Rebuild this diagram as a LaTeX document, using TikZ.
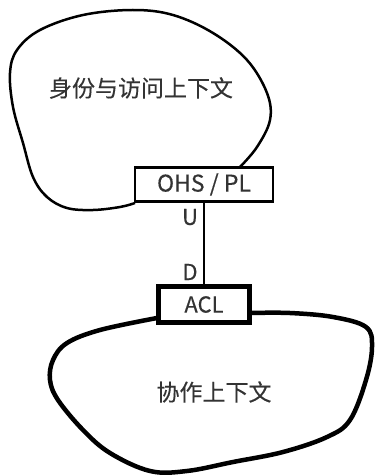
\documentclass[tikz,border=0pt]{standalone}
\usepackage{fontspec}
\setmainfont{Noto Sans CJK SC}[BoldFont={Noto Sans CJK SC},BoldFeatures={FakeBold=0.2}]
\begin{document}
\begin{tikzpicture}[x=1pt,y=-1pt,
  lbl/.style={font=\bfseries\fontsize{23}{26}\selectfont, text=black!80, inner sep=0pt},
  ohsbox/.style={draw, line width=2.5pt, fill=white, minimum width=138pt, minimum height=34pt, inner sep=0pt, font=\bfseries\fontsize{23}{26}\selectfont, text=black!80},
  aclbox/.style={draw, line width=5pt, fill=white, minimum width=91pt, minimum height=36pt, inner sep=0pt, font=\bfseries\fontsize{22}{26}\selectfont, text=black!80},
  side/.style={font=\bfseries\fontsize{22}{24}\selectfont, text=black!80, inner sep=0pt}]
\useasboundingbox (0,0) rectangle (375,476);
% top blob
\draw[line width=2.5pt, line join=round] plot[smooth, tension=0.6] coordinates {
 (135,203) (120,207) (93,210) (67,208) (47,197) (33,177) (23,143) (13,107) (10,73) (17,50) (40,30) (83,15) (133,10) (173,15) (213,33) (247,60) (267,93) (270,120) (257,147) (240,167)};
% bottom blob
\draw[line width=4.5pt, line join=round] plot[smooth, tension=0.6] coordinates {
 (157,318) (100,330) (67,343) (53,360) (50,380) (58,400) (83,430) (110,453) (150,471) (187,471) (233,462) (283,452) (327,437) (350,420) (366,380) (372,347) (366,327) (333,317) (290,313) (250,313)};
\node[ohsbox] (ohs) at (204,184.5) {OHS / PL};
\node[aclbox] (acl) at (204,304.5) {ACL};
\draw[line width=1.5pt] (ohs.south) -- (acl.north);
\node[side] (u) at (190,217) {U};
\node[side] (d) at (190,272) {D};
\node[lbl] (ctx1) at (141,88) {身份与访问上下文};
\node[lbl] (ctx2) at (214,392) {协作上下文};
\end{tikzpicture}
\end{document}
